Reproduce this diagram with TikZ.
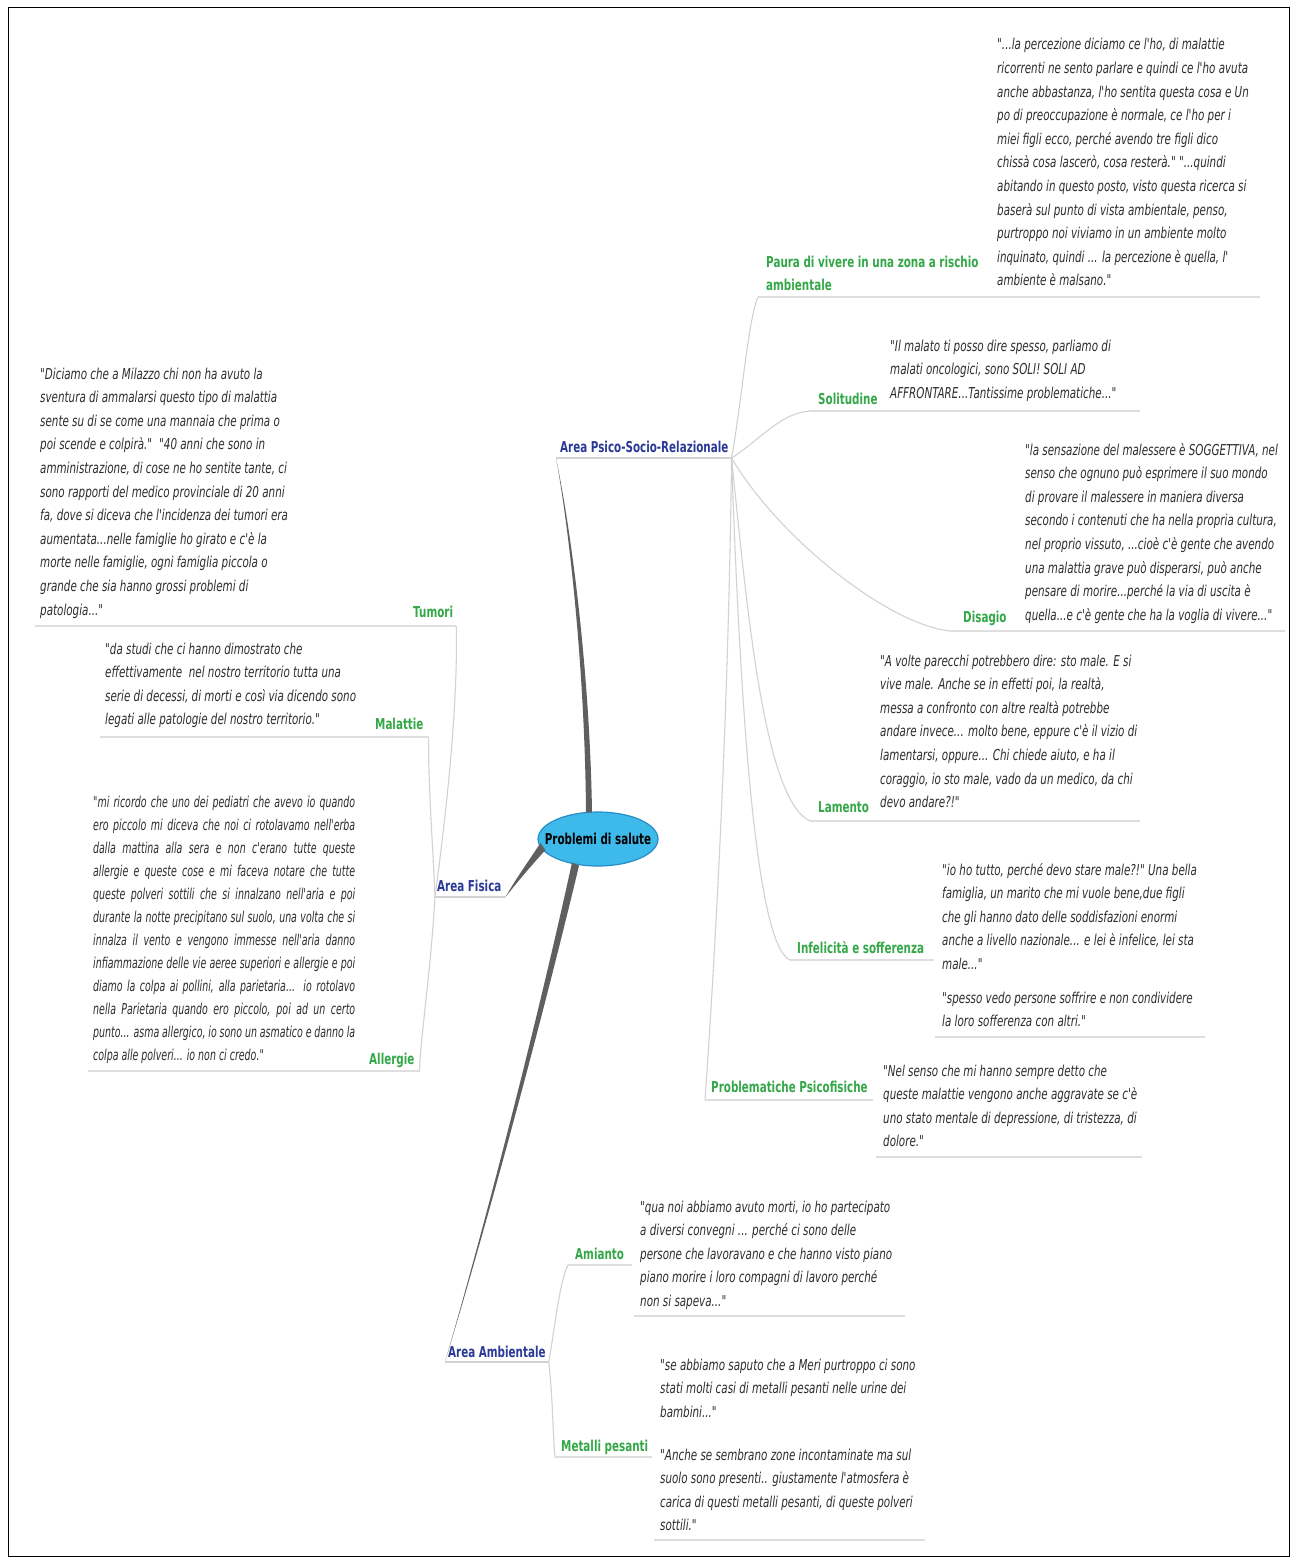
\documentclass[tikz,border=0pt]{standalone}
\usepackage{fontspec}
\setmainfont{DejaVu Sans}
\newfontfamily\mapfont[FakeStretch=0.69]{DejaVu Sans}
\newfontfamily\narrowfont[FakeStretch=0.63]{DejaVu Sans}
\usetikzlibrary{calc,shapes.geometric}

\definecolor{quotegray}{RGB}{45,45,45}
\definecolor{topicgreen}{RGB}{52,168,72}
\definecolor{areablue}{RGB}{42,58,150}
\definecolor{hubblue}{RGB}{62,186,234}
\definecolor{hubedge}{RGB}{40,140,200}
\definecolor{branchgray}{RGB}{95,95,95}
\definecolor{twiggray}{RGB}{210,210,210}
\definecolor{rulegray}{RGB}{222,222,222}

% ragged quotation block, lines broken by hand
\newcommand\quotetext[1]{\parbox[t]{420pt}{\mapfont\itshape\fontsize{15}{23.6}\selectfont\raggedright #1}}
% one full-width line of a justified quotation
\newcommand\justline[1]{\hbox to 262pt{#1}}

\begin{document}
\begin{tikzpicture}[x=1pt,y=-1pt,
  quotebox/.style={anchor=base west, inner sep=0pt, text=quotegray},
  topic/.style={anchor=base west, inner sep=0pt, text=topicgreen,
    font={\mapfont\bfseries\fontsize{15}{23}\selectfont}},
  areatopic/.style={anchor=base west, inner sep=0pt, text=areablue,
    font={\mapfont\bfseries\fontsize{15}{23}\selectfont}},
  hub/.style={ellipse, draw=hubedge, fill=hubblue, line width=1.2pt,
    minimum width=120pt, minimum height=54pt, inner sep=0pt, text=black,
    font={\mapfont\bfseries\fontsize{15}{18}\selectfont}},
  mainbranch/.style={fill=branchgray},
  twig/.style={draw=twiggray, line width=1.1pt},
  underrule/.style={draw=rulegray, line width=1.6pt},
]
\useasboundingbox (0,0) rectangle (1296,1562);
\fill[white] (0,0) rectangle (1296,1562);
\draw[black, line width=1pt] (8,8) rectangle (1289,1556);

% ---- central topic and main areas
\node[hub] (hub) at (598,839) {\makebox[80pt][c]{Problemi di salute}};
\node[areatopic] (psico) at (560,452) {Area Psico-Socio-Relazionale};
\node[areatopic] (fisica) at (437,891) {Area Fisica};
\node[areatopic] (amb) at (448,1357) {Area Ambientale};

\coordinate (psicoL) at ($(psico.base west)+(-4,6)$);
\coordinate (psicoR) at ($(psico.base east)+(3,6)$);
\coordinate (fisicaL) at ($(fisica.base west)+(-2,6)$);
\coordinate (fisicaR) at ($(fisica.base east)+(4,6)$);
\coordinate (ambL) at ($(amb.base west)+(-3,5)$);
\coordinate (ambR) at ($(amb.base east)+(3,5)$);

% ---- tapered main branches
\fill[mainbranch] ($(hub.north)+(-12,1)$) .. controls (585,680) and (571,540) .. (psicoL)
  .. controls (573,540) and (590,680) .. ($(hub.north)+(-6,1)$) -- cycle;
\fill[mainbranch] ($(hub.west)+(3,4)$) .. controls (528,862) and (515,880) .. (fisicaR)
  .. controls (518,881) and (531,866) .. ($(hub.west)+(8,11)$) -- cycle;
\fill[mainbranch] ($(hub.south)+(-26,-4)$) .. controls (542,1000) and (492,1200) .. (ambL)
  .. controls (494,1200) and (547,1000) .. ($(hub.south)+(-19,-1)$) -- cycle;

\draw[twig] (psicoL) -- (psicoR);
\draw[twig] (fisicaL) -- (fisicaR);
\draw[twig] (ambL) -- (ambR);

% ---- Area Psico-Socio-Relazionale
\node[topic] (paura) at (766,267) {\parbox[t]{240pt}{\raggedright Paura di vivere in una zona a rischio\\ambientale}};
\node[topic] (sol) at (818,404) {Solitudine};
\node[topic] (dis) at (963,622) {Disagio};
\node[topic] (lam) at (818,812) {Lamento};
\node[topic] (inf) at (797,953) {Infelicità e sofferenza};
\node[topic] (prob) at (711,1092) {Problematiche Psicofisiche};

\coordinate (pauraP) at ($(paura.base west)+(-8,30)$);
\coordinate (solP) at ($(sol.base west)+(-8,7)$);
\coordinate (disP) at ($(dis.base west)+(-13,9)$);
\coordinate (lamP) at ($(lam.base west)+(-8,9)$);
\coordinate (infP) at ($(inf.base west)+(-7,7)$);
\coordinate (probP) at ($(prob.base west)+(-6,8)$);

\draw[twig] (psicoR) .. controls (742,400) and (748,320) .. (pauraP);
\draw[twig] (psicoR) .. controls (760,440) and (780,413) .. (solP);
\draw[twig] (psicoR) .. controls (780,540) and (890,625) .. (disP);
\draw[twig] (psicoR) .. controls (748,620) and (765,800) .. (lamP);
\draw[twig] (psicoR) .. controls (740,700) and (755,945) .. (infP);
\draw[twig] (psicoR) .. controls (728,750) and (712,1000) .. (probP);

\draw[underrule] (pauraP) -- (1260,297);
\draw[underrule] (solP) -- (1140,411);
\draw[underrule] (disP) -- (1285,631);
\draw[underrule] (lamP) -- (1140,821);
\draw[underrule] (infP) -- (934,960);
\draw[underrule] (935,1037) -- (1205,1037);
\draw[underrule] (probP) -- (873,1100);
\draw[underrule] (876,1157) -- (1142,1157);

\node[quotebox] (pauraQ) at (997,50) {\quotetext{"...la percezione diciamo ce l'ho, di malattie\\
ricorrenti ne sento parlare e quindi ce l'ho avuta\\
anche abbastanza, l'ho sentita questa cosa e Un\\
po di preoccupazione è normale, ce l'ho per i\\
miei figli ecco, perché avendo tre figli dico\\
chissà cosa lascerò, cosa resterà." "...quindi\\
abitando in questo posto, visto questa ricerca si\\
baserà sul punto di vista ambientale, penso,\\
purtroppo noi viviamo in un ambiente molto\\
inquinato, quindi ... la percezione è quella, l'\\
ambiente è malsano."}};

\node[quotebox] (solQ) at (890,351) {\quotetext{"Il malato ti posso dire spesso, parliamo di\\
malati oncologici, sono SOLI! SOLI AD\\
AFFRONTARE...Tantissime problematiche..."}};

\node[quotebox] (disQ) at (1025,455) {\quotetext{"la sensazione del malessere è SOGGETTIVA, nel\\
senso che ognuno può esprimere il suo mondo\\
di provare il malessere in maniera diversa\\
secondo i contenuti che ha nella propria cultura,\\
nel proprio vissuto, ...cioè c'è gente che avendo\\
una malattia grave può disperarsi, può anche\\
pensare di morire...perché la via di uscita è\\
quella...e c'è gente che ha la voglia di vivere..."}};

\node[quotebox] (lamQ) at (880,666) {\quotetext{"A volte parecchi potrebbero dire: sto male. E si\\
vive male. Anche se in effetti poi, la realtà,\\
messa a confronto con altre realtà potrebbe\\
andare invece... molto bene, eppure c'è il vizio di\\
lamentarsi, oppure... Chi chiede aiuto, e ha il\\
coraggio, io sto male, vado da un medico, da chi\\
devo andare?!"}};

\node[quotebox] (infQa) at (942,875) {\quotetext{"io ho tutto, perché devo stare male?!" Una bella\\
famiglia, un marito che mi vuole bene,due figli\\
che gli hanno dato delle soddisfazioni enormi\\
anche a livello nazionale... e lei è infelice, lei sta\\
male..."}};
\node[quotebox] (infQb) at (942,1003) {\quotetext{"spesso vedo persone soffrire e non condividere\\
la loro sofferenza con altri."}};

\node[quotebox] (probQ) at (883,1076) {\quotetext{"Nel senso che mi hanno sempre detto che\\
queste malattie vengono anche aggravate se c'è\\
uno stato mentale di depressione, di tristezza, di\\
dolore."}};

% ---- Area Fisica
\node[topic] (tum) at (413,617) {Tumori};
\node[topic] (mal) at (375,729) {Malattie};
\node[topic] (all) at (369,1064) {Allergie};

\coordinate (tumP) at ($(tum.base east)+(3,9)$);
\coordinate (malP) at ($(mal.base east)+(5,8)$);
\coordinate (allP) at ($(all.base east)+(5,7)$);

\draw[twig] (fisicaL) .. controls (448,800) and (458,700) .. (tumP);
\draw[twig] (fisicaL) .. controls (432,830) and (428,780) .. (malP);
\draw[twig] (fisicaL) .. controls (430,980) and (420,1040) .. (allP);

\draw[underrule] (35,626) -- (tumP);
\draw[underrule] (100,737) -- (malP);
\draw[underrule] (88,1071) -- (allP);

\node[quotebox] (tumQ) at (40,379) {\quotetext{"Diciamo che a Milazzo chi non ha avuto la\\
sventura di ammalarsi questo tipo di malattia\\
sente su di se come una mannaia che prima o\\
poi scende e colpirà."\hspace{7pt}"40 anni che sono in\\
amministrazione, di cose ne ho sentite tante, ci\\
sono rapporti del medico provinciale di 20 anni\\
fa, dove si diceva che l'incidenza dei tumori era\\
aumentata...nelle famiglie ho girato e c'è la\\
morte nelle famiglie, ogni famiglia piccola o\\
grande che sia hanno grossi problemi di\\
patologia..."}};

\node[quotebox] (malQ) at (105,654) {\quotetext{"da studi che ci hanno dimostrato che\\
effettivamente\ \ nel nostro territorio tutta una\\
serie di decessi, di morti e così via dicendo sono\\
legati alle patologie del nostro territorio."}};

\node[quotebox] (allQ) at (93,807) {\parbox[t]{262pt}{\narrowfont\itshape\fontsize{15}{23}\selectfont
\justline{"mi ricordo che uno dei pediatri che avevo io quando}
\justline{ero piccolo mi diceva che noi ci rotolavamo nell'erba}
\justline{dalla mattina alla sera e non c'erano tutte queste}
\justline{allergie e queste cose e mi faceva notare che tutte}
\justline{queste polveri sottili che si innalzano nell'aria e poi}
\justline{durante la notte precipitano sul suolo, una volta che si}
\justline{innalza il vento e vengono immesse nell'aria danno}
\justline{infiammazione delle vie aeree superiori e allergie e poi}
\justline{diamo la colpa ai pollini, alla parietaria... io rotolavo}
\justline{nella Parietaria quando ero piccolo, poi ad un certo}
\justline{punto... asma allergico, io sono un asmatico e danno la}
\hbox{colpa alle polveri... io non ci credo."}}};

% ---- Area Ambientale
\node[topic] (ami) at (575,1259) {Amianto};
\node[topic] (met) at (561,1451) {Metalli pesanti};

\coordinate (amiP) at ($(ami.base west)+(-7,6)$);
\coordinate (metP) at ($(met.base west)+(-6,6)$);

\draw[twig] (ambR) .. controls (556,1320) and (560,1280) .. (amiP);
\draw[twig] (ambR) .. controls (553,1400) and (553,1440) .. (metP);

\draw[underrule] (amiP) -- (632,1265);
\draw[underrule] (634,1316) -- (905,1316);
\draw[underrule] (metP) -- (652,1457);
\draw[underrule] (654,1540) -- (925,1540);

\node[quotebox] (amiQ) at (640,1212) {\quotetext{"qua noi abbiamo avuto morti, io ho partecipato\\
a diversi convegni ... perché ci sono delle\\
persone che lavoravano e che hanno visto piano\\
piano morire i loro compagni di lavoro perché\\
non si sapeva..."}};

\node[quotebox] (metQa) at (660,1370) {\quotetext{"se abbiamo saputo che a Meri purtroppo ci sono\\
stati molti casi di metalli pesanti nelle urine dei\\
bambini..."}};
\node[quotebox] (metQb) at (660,1460) {\quotetext{"Anche se sembrano zone incontaminate ma sul\\
suolo sono presenti.. giustamente l'atmosfera è\\
carica di questi metalli pesanti, di queste polveri\\
sottili."}};
\end{tikzpicture}
\end{document}
